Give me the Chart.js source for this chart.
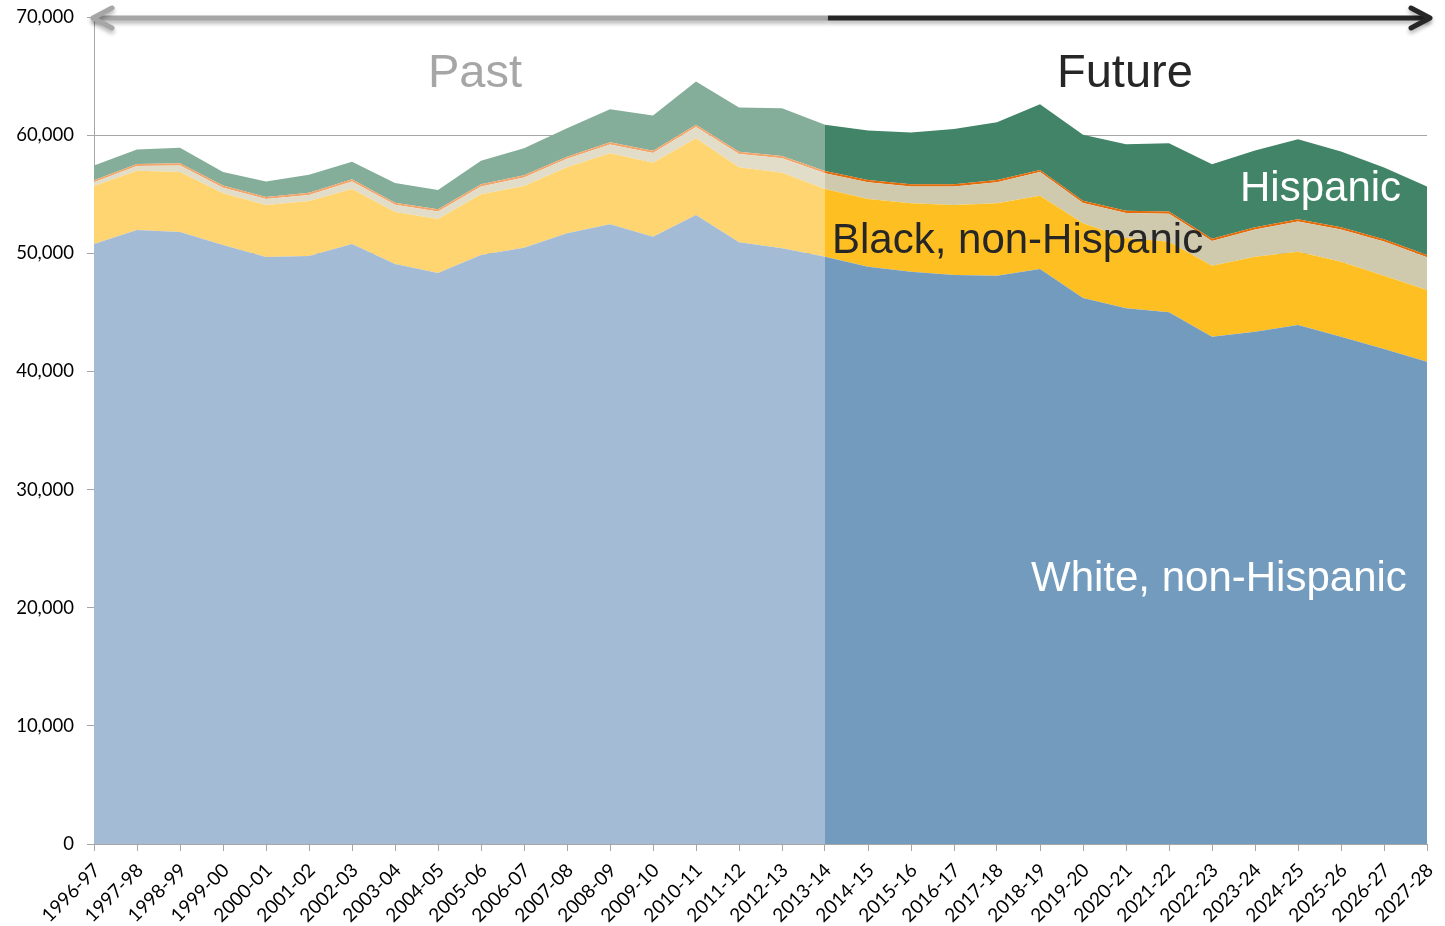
<!DOCTYPE html>
<html>
<head>
<meta charset="utf-8">
<script src="https://cdn.jsdelivr.net/npm/chart.js@4.4.1/dist/chart.umd.min.js"></script>
<style>
  html, body { margin: 0; padding: 0; background: #fff; }
  canvas { display: block; }
</style>
</head>
<body>
<canvas id="enrollChart" width="1445" height="926"></canvas>
<script>
const years = ['1996-97','1997-98','1998-99','1999-00','2000-01','2001-02','2002-03','2003-04',
  '2004-05','2005-06','2006-07','2007-08','2008-09','2009-10','2010-11','2011-12','2012-13',
  '2013-14','2014-15','2015-16','2016-17','2017-18','2018-19','2019-20','2020-21','2021-22',
  '2022-23','2023-24','2024-25','2025-26','2026-27','2027-28'];

const whiteNH = [50780, 51970, 51800, 50700, 49690, 49770, 50780, 49090, 48330, 49850, 50470,
  51690, 52450, 51400, 53240, 50930, 50420, 49710, 48870, 48440, 48160, 48100, 48670, 46210,
  45350, 45000, 42940, 43360, 43930, 42940, 41900, 40820];
const blackNH = [4910, 5020, 5080, 4380, 4400, 4650, 4660, 4400, 4570, 5140, 5220, 5590, 6010,
  6270, 6490, 6350, 6400, 5740, 5720, 5790, 5930, 6130, 6200, 6330, 5950, 5980, 6010, 6350,
  6200, 6350, 6200, 6070];
const asianPI = [330, 390, 560, 470, 500, 520, 640, 610, 640, 670, 730, 720, 750, 810, 950,
  1120, 1230, 1320, 1430, 1430, 1570, 1790, 2000, 1720, 2120, 2360, 2080, 2310, 2570, 2730,
  2900, 2780];
const amIndian = [170, 170, 180, 180, 180, 180, 180, 180, 180, 180, 180, 180, 190, 190, 190,
  190, 190, 190, 190, 190, 190, 190, 190, 190, 190, 190, 190, 190, 190, 190, 190, 190];
const hispanic = [1250, 1240, 1320, 1160, 1300, 1520, 1490, 1670, 1640, 2000, 2280, 2410, 2800,
  2990, 3660, 3750, 4040, 3930, 4180, 4370, 4660, 4880, 5560, 5580, 5620, 5780, 6320, 6480,
  6770, 6400, 6070, 5790];

const yTicks = [0, 10000, 20000, 30000, 40000, 50000, 60000, 70000];

// projections start after this year
const FIRST_PROJECTED = 17;

function area(label, data, past, future, fill) {
  return {
    label, data, fill,
    backgroundColor: past,
    borderWidth: 0,
    pointRadius: 0,
    tension: 0,
    segment: {
      backgroundColor: c => c.p0DataIndex >= FIRST_PROJECTED ? future : past
    }
  };
}

function drawArrow(ctx, x0, x1, y, color, headLeft) {
  ctx.strokeStyle = color;
  ctx.lineWidth = 5;
  ctx.lineCap = 'butt';
  ctx.beginPath();
  ctx.moveTo(x0, y);
  ctx.lineTo(x1, y);
  ctx.stroke();
  const tip = headLeft ? x0 : x1;
  const d = headLeft ? 1 : -1;
  ctx.lineCap = 'round';
  ctx.lineJoin = 'round';
  ctx.beginPath();
  ctx.moveTo(tip + d * 19, y - 10);
  ctx.lineTo(tip, y);
  ctx.lineTo(tip + d * 19, y + 10);
  ctx.stroke();
}

const labelsPlugin = {
  id: 'labelsPlugin',
  afterDraw(chart) {
    const { ctx, scales: { x, y } } = chart;
    const top = y.getPixelForValue(70000);
    const split = x.getPixelForValue(FIRST_PROJECTED);
    ctx.save();
    ctx.shadowColor = 'rgba(0,0,0,0.3)';
    ctx.shadowBlur = 4;
    ctx.shadowOffsetY = 3;
    drawArrow(ctx, x.left - 1, split + 3, top + 1, '#a6a6a6', true);
    drawArrow(ctx, split + 3, x.right + 3, top + 1, '#262626', false);
    ctx.restore();

    ctx.save();
    ctx.textBaseline = 'alphabetic';
    ctx.textAlign = 'left';
    ctx.font = '47px "Liberation Sans", Arial, sans-serif';
    ctx.fillStyle = '#a6a6a6';
    ctx.fillText('Past', 428, 87);
    ctx.fillStyle = '#262626';
    ctx.fillText('Future', 1057, 87);
    ctx.font = '42px "Liberation Sans", Arial, sans-serif';
    ctx.fillText('Black, non-Hispanic', 832, 253);
    ctx.fillStyle = '#ffffff';
    ctx.fillText('Hispanic', 1240, 201);
    ctx.fillText('White, non-Hispanic', 1031, 591);
    ctx.restore();
  }
};

new Chart(document.getElementById('enrollChart'), {
  type: 'line',
  data: {
    labels: years,
    datasets: [
      area('White, non-Hispanic', whiteNH, '#a3bbd4', '#739bbd', 'origin'),
      area('Black, non-Hispanic', blackNH, '#fed571', '#febf23', '-1'),
      area('Asian/Pacific Islander', asianPI, '#e2ddc9', '#cfcaae', '-1'),
      area('American Indian', amIndian, '#f2a66c', '#e46c0a', '-1'),
      area('Hispanic', hispanic, '#84ae9a', '#418468', '-1')
    ]
  },
  options: {
    responsive: false,
    animation: false,
    layout: { padding: { top: 17, right: 18, left: 0, bottom: 0 } },
    plugins: {
      legend: { display: false },
      tooltip: { enabled: false }
    },
    scales: {
      x: {
        offset: false,
        grid: { drawOnChartArea: false, drawTicks: true, tickLength: 7, color: '#a6a6a6' },
        border: { color: '#a6a6a6' },
        ticks: {
          autoSkip: false, maxRotation: 45, minRotation: 45, padding: 8, labelOffset: 3,
          color: '#000', font: { family: 'Lato', size: 19 }
        },
        afterFit: s => { s.height = 82; s.paddingLeft = 0; s.paddingRight = 0; }
      },
      y: {
        stacked: true,
        min: 0, max: 70000,
        afterBuildTicks: s => { s.ticks = yTicks.map(v => ({ value: v })); },
        grid: { color: '#a6a6a6', tickLength: 7 },
        border: { color: '#a6a6a6' },
        ticks: {
          padding: 13,
          color: '#000',
          font: { family: 'Lato', size: 18.5 },
          callback: v => v.toLocaleString('en-US')
        },
        afterFit: s => { s.width = 94; s.paddingTop = 0; s.paddingBottom = 0; }
      }
    }
  },
  plugins: [labelsPlugin]
});
</script>
</body>
</html>
